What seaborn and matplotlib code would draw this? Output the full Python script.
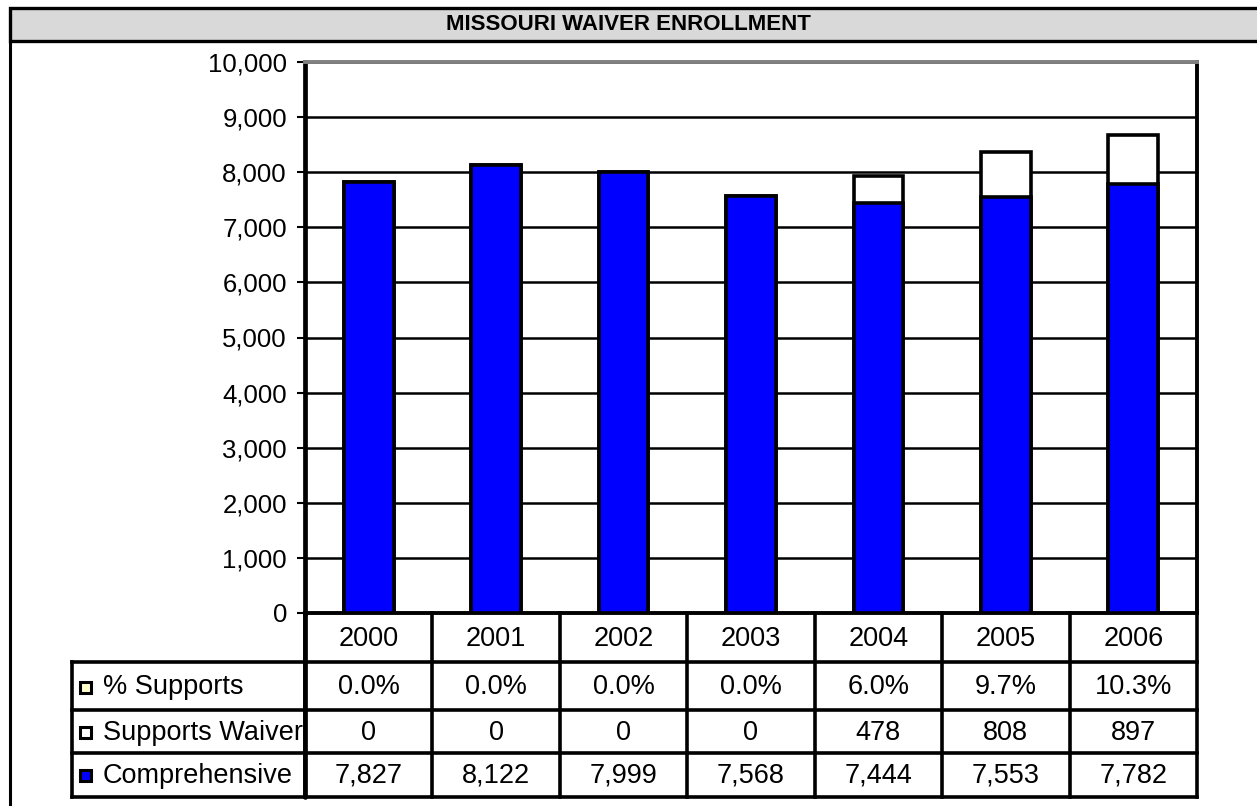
import numpy as np
import pandas as pd
import matplotlib
matplotlib.use("Agg")
import matplotlib.pyplot as plt
from matplotlib.patches import Rectangle
from matplotlib.lines import Line2D
import seaborn as sns

# -----------------------------
# data
# -----------------------------
years = ["2000", "2001", "2002", "2003", "2004", "2005", "2006"]
comprehensive = [7827, 8122, 7999, 7568, 7444, 7553, 7782]
supports_waiver = [0, 0, 0, 0, 478, 808, 897]
pct_supports = [0.0, 0.0, 0.0, 0.0, 6.0, 9.7, 10.3]
row_labels = ["% Supports", "Supports Waiver", "Comprehensive"]
y_ticks = [0, 1000, 2000, 3000, 4000, 5000, 6000, 7000, 8000, 9000, 10000]

BLUE = "#0000ff"
KEY_COLORS = ["#ffffcc", "white", BLUE]
FS_TICK = 18.5
FS_TAB = 19.5

df = pd.DataFrame({"year": years, "comp": comprehensive, "supp": supports_waiver})
df["total"] = df["comp"] + df["supp"]

sns.set_theme(style="white")
plt.rcParams["font.family"] = ["Liberation Sans", "DejaVu Sans"]
plt.rcParams.update({"text.color": "black", "ytick.color": "black",
                     "xtick.color": "black", "axes.labelcolor": "black"})

W, H = 1257, 806
fig = plt.figure(figsize=(W / 100, H / 100), dpi=100)


def fx(px):
    return px / W


def fy(py):
    return 1 - py / H


# -----------------------------
# frame + title bar
# -----------------------------
fig.add_artist(Rectangle((fx(10), fy(41)), 1.2, fy(8) - fy(41), transform=fig.transFigure,
                         facecolor="#d9d9d9", edgecolor="black", lw=2.4, clip_on=False))
fig.add_artist(Line2D([fx(10), fx(10)], [fy(41), -0.1], transform=fig.transFigure,
                      color="black", lw=2.2))
fig.text(fx(628), fy(25), "MISSOURI WAIVER ENROLLMENT", ha="center", va="center",
         fontsize=16, fontweight="bold", color="black")

# -----------------------------
# bars
# -----------------------------
ax = fig.add_axes([fx(305), fy(613), fx(1197) - fx(305), fy(62) - fy(613)])
sns.barplot(data=df, x="year", y="total", color="white", edgecolor="black",
            linewidth=2.6, width=0.39, saturation=1, ax=ax, zorder=3)
sns.barplot(data=df, x="year", y="comp", color=BLUE, edgecolor="black",
            linewidth=2.6, width=0.39, saturation=1, ax=ax, zorder=4)

ax.set_xlim(-0.5, 6.5)
ax.set_ylim(0, 10000)
ax.set_yticks(y_ticks)
ax.set_yticklabels([f"{v:,}" for v in y_ticks])
ax.set_xticks([])
ax.set_xlabel("")
ax.set_ylabel("")
ax.yaxis.grid(True, color="black", lw=1.8)
ax.set_axisbelow(True)
ax.tick_params(axis="y", left=True, length=6, width=1.5, color="black",
               labelsize=FS_TICK, pad=7)
for side, lw, col in [("left", 3.4, "black"), ("right", 2.8, "black"),
                      ("top", 2.8, "#808080"), ("bottom", 2.8, "black")]:
    ax.spines[side].set_visible(True)
    ax.spines[side].set_linewidth(lw)
    ax.spines[side].set_color(col)

# -----------------------------
# data table under the bars
# -----------------------------
tab = fig.add_axes([fx(72), fy(797), fx(1197) - fx(72), fy(613) - fy(797)])
tab.set_xlim(72, 1197)
tab.set_ylim(797, 613)
tab.axis("off")

col_x = np.linspace(305, 1197, len(years) + 1)
row_y = [613, 662, 710, 753, 797]
centers = (col_x[:-1] + col_x[1:]) / 2

line_kw = dict(color="black", lw=2.6, solid_capstyle="projecting", clip_on=False)
for y in row_y[1:]:
    tab.plot([72, 1197], [y, y], **line_kw)
tab.plot([72, 72], [row_y[1], row_y[-1]], **line_kw)
for x in col_x:
    tab.plot([x, x], [row_y[0], row_y[-1]], **line_kw)
tab.plot([305, 305], [row_y[0], row_y[-1]], color="black", lw=3.4, clip_on=False)

mid = [(row_y[i] + row_y[i + 1]) / 2 for i in range(4)]

for cx, yr in zip(centers, years):
    tab.text(cx, mid[0] + 1, yr, ha="center", va="center", fontsize=FS_TAB)

rows = [
    [f"{p:.1f}%" for p in pct_supports],
    [f"{v:,}" for v in supports_waiver],
    [f"{v:,}" for v in comprehensive],
]
for r, vals in enumerate(rows):
    ym = mid[r + 1] + 1
    for cx, s in zip(centers, vals):
        tab.text(cx, ym, s, ha="center", va="center", fontsize=FS_TAB)
    # legend key
    tab.add_patch(Rectangle((80, ym - 5.5), 11, 11, facecolor=KEY_COLORS[r],
                            edgecolor="black", lw=2.2, clip_on=False))
    t = tab.text(103, ym, row_labels[r], ha="left", va="center", fontsize=FS_TAB,
                 clip_on=True)
    clip = Rectangle((72, row_y[r + 1]), 305 - 72, row_y[r + 2] - row_y[r + 1],
                     transform=tab.transData, visible=False)
    t.set_clip_path(clip)

fig.savefig("out.png", dpi=100)
plt.close()
